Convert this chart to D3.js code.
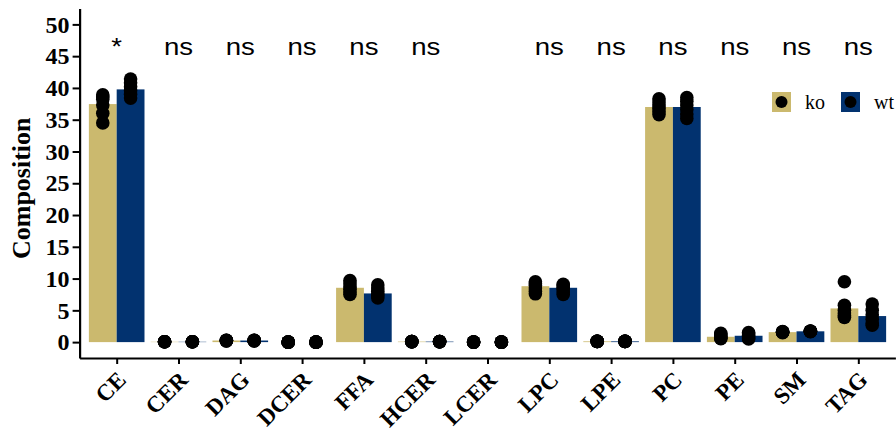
<!DOCTYPE html>
<html>
<head>
<meta charset="utf-8">
<script src="https://cdn.jsdelivr.net/npm/d3@7/dist/d3.min.js"></script>
<style>
  html, body { margin: 0; padding: 0; background: #fff; }
  svg { display: block; }
</style>
</head>
<body>
<div id="chart"></div>
<script>
// Lipid class composition, ko vs wt
const categories = ["CE","CER","DAG","DCER","FFA","HCER","LCER","LPC","LPE","PC","PE","SM","TAG"];
const groups = ["ko","wt"];
const koMean = [37.46, 0.05, 0.25, 0, 8.55, 0.08, 0, 8.8, 0.12, 37.0, 0.84, 1.57, 5.3];
const wtMean = [39.77, 0.05, 0.25, 0, 7.66, 0.08, 0, 8.55, 0.12, 37.0, 1.0, 1.7, 4.1];
const koPoints = [
  [34.5, 36.0, 37.3, 38.2, 38.6, 38.9],
  [0.05, 0.05, 0.05, 0.05, 0.05, 0.05],
  [0.2, 0.25, 0.3, 0.25, 0.3, 0.2],
  [0, 0, 0, 0, 0, 0],
  [7.5, 7.9, 8.3, 8.7, 9.2, 9.7],
  [0.08, 0.08, 0.08, 0.08, 0.08, 0.08],
  [0, 0, 0, 0, 0, 0],
  [7.6, 8.0, 8.5, 8.9, 9.2, 9.5],
  [0.12, 0.12, 0.12, 0.12, 0.12, 0.12],
  [35.8, 36.3, 36.8, 37.3, 37.8, 38.3],
  [0.55, 0.6, 0.8, 1.0, 1.2, 1.4],
  [1.5, 1.55, 1.6, 1.6, 1.65, 1.6],
  [3.9, 4.2, 4.6, 5.0, 5.8, 9.5]
];
const wtPoints = [
  [38.4, 39.0, 39.6, 40.2, 40.8, 41.4],
  [0.05, 0.05, 0.05, 0.05, 0.05, 0.05],
  [0.2, 0.25, 0.3, 0.25, 0.3, 0.2],
  [0, 0, 0, 0, 0, 0],
  [6.95, 7.3, 7.6, 8.0, 8.5, 9.0],
  [0.08, 0.08, 0.08, 0.08, 0.08, 0.08],
  [0, 0, 0, 0, 0, 0],
  [7.5, 7.9, 8.3, 8.6, 8.9, 9.1],
  [0.12, 0.12, 0.12, 0.12, 0.12, 0.12],
  [35.2, 35.9, 36.6, 37.3, 37.9, 38.5],
  [0.5, 0.65, 0.85, 1.05, 1.3, 1.5],
  [1.65, 1.7, 1.75, 1.7, 1.72, 1.68],
  [2.65, 3.0, 3.6, 4.3, 5.0, 6.0]
];
const signif = ["*","ns","ns","ns","ns","ns","","ns","ns","ns","ns","ns","ns"];
const yTicks = [0, 5, 10, 15, 20, 25, 30, 35, 40, 45, 50];
const signifY = 45.2;

const W = 896, H = 435;
const colors = { ko: "#CBB96E", wt: "#02326F" };
const serif = "'Liberation Serif', 'Times New Roman', serif";
const sans = "'Liberation Sans', Arial, sans-serif";

const svg = d3.select("#chart").append("svg")
  .attr("width", W).attr("height", H)
  .style("background", "#fff");

const x = d3.scalePoint().domain(categories).range([79.6, 895.4]).padding(0.6);
const step = x.step();
const xg = d3.scaleBand().domain(groups).range([-0.45 * step, 0.45 * step]).padding(0);
const y = d3.scaleLinear().domain([-2.5, 52.5]).range([358, 8.5]);

const meanBy = { ko: koMean, wt: wtMean };
const ptsBy = { ko: koPoints, wt: wtPoints };

const bars = [];
const pts = [];
categories.forEach((c, i) => {
  groups.forEach(g => {
    bars.push({ c, g, v: meanBy[g][i] });
    ptsBy[g][i].forEach(v => pts.push({ c, g, v }));
  });
});

// bars
svg.append("g").selectAll("rect").data(bars).join("rect")
  .attr("x", d => x(d.c) + xg(d.g))
  .attr("width", xg.bandwidth())
  .attr("y", d => y(d.v))
  .attr("height", d => Math.max(0, y(0) - y(d.v)))
  .attr("fill", d => colors[d.g]);

// individual samples
svg.append("g").selectAll("circle").data(pts).join("circle")
  .attr("cx", d => x(d.c) + xg(d.g) + xg.bandwidth() / 2)
  .attr("cy", d => y(d.v))
  .attr("r", 6.8)
  .attr("fill", "#000");

// significance labels
svg.append("g").selectAll("text").data(categories.map((c, i) => ({ c, s: signif[i] })).filter(d => d.s))
  .join("text")
  .attr("transform", d => `translate(${x(d.c)},${y(signifY)}) scale(1.2,1)`)
  .attr("text-anchor", "middle")
  .style("font-family", sans)
  .style("font-size", "23px")
  .attr("fill", "#000")
  .text(d => d.s);

// y axis
const yAxis = svg.append("g")
  .attr("transform", `translate(${x.range()[0]},0)`)
  .call(d3.axisLeft(y).tickValues(yTicks).tickSize(7).tickSizeOuter(0).tickPadding(3));
yAxis.select(".domain").attr("stroke", "#000").attr("stroke-width", 2.2);
yAxis.selectAll(".tick line").attr("stroke", "#000").attr("stroke-width", 2);
yAxis.selectAll(".tick text")
  .style("font-family", serif).style("font-weight", "bold").style("font-size", "24px")
  .attr("fill", "#000");

// x axis
const xAxis = svg.append("g")
  .attr("transform", `translate(0,${y(-2.5)})`)
  .call(d3.axisBottom(x).tickSize(6).tickSizeOuter(0));
xAxis.select(".domain").attr("stroke", "#000").attr("stroke-width", 2.2);
xAxis.selectAll(".tick line").attr("stroke", "#000").attr("stroke-width", 2);
xAxis.selectAll(".tick text")
  .attr("y", 0)
  .attr("transform", "translate(-2,11) rotate(-45)")
  .attr("text-anchor", "end")
  .attr("dy", "0.75em")
  .style("font-family", serif).style("font-weight", "bold").style("font-size", "23px")
  .attr("fill", "#000");

// y title
svg.append("text")
  .attr("transform", `translate(30,${(y(52.5) + y(-2.5)) / 2 + 5}) rotate(-90)`)
  .attr("text-anchor", "middle")
  .style("font-family", serif).style("font-weight", "bold").style("font-size", "26px")
  .attr("fill", "#000")
  .text("Composition");

// legend
const legend = svg.append("g").attr("transform", "translate(772,92)");
const items = legend.selectAll("g").data(groups).join("g")
  .attr("transform", (d, i) => `translate(${i * 69},0)`);
items.append("rect").attr("width", 19).attr("height", 20).attr("fill", d => colors[d]);
items.append("circle").attr("cx", 9.5).attr("cy", 10).attr("r", 6).attr("fill", "#000");
items.append("text")
  .attr("x", 33).attr("y", 10).attr("dy", "0.35em")
  .style("font-family", serif).style("font-size", "20px")
  .attr("fill", "#000")
  .text(d => d);
</script>
</body>
</html>
